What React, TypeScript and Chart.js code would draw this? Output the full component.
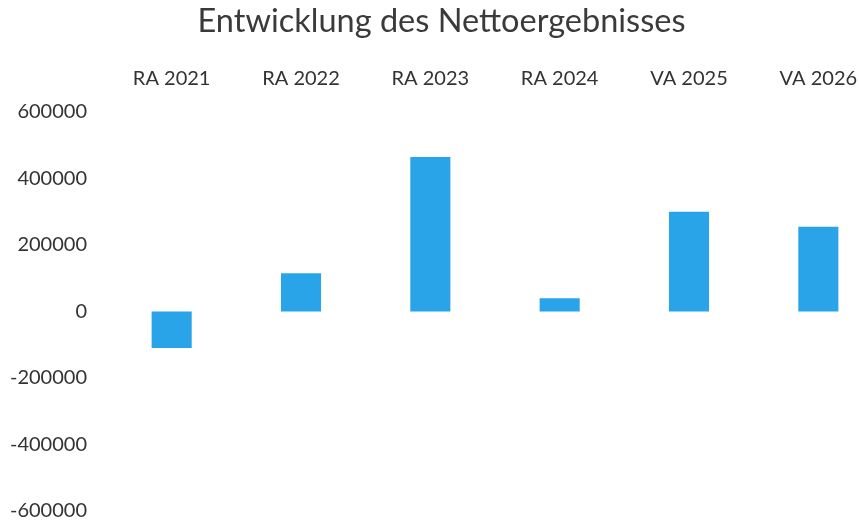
import React, { useEffect, useRef } from "react";
import { Chart, registerables } from "chart.js";

Chart.register(...registerables);

const categories = ["RA 2021", "RA 2022", "RA 2023", "RA 2024", "VA 2025", "VA 2026"];
const nettoergebnis = [-110000, 115000, 465000, 40000, 300000, 255000];
const yTicks = [600000, 400000, 200000, 0, -200000, -400000, -600000];
const chartTitle = "Entwicklung des Nettoergebnisses";

export default function App() {
  const ref = useRef<HTMLCanvasElement | null>(null);
  useEffect(() => {
    if (!ref.current) return;
    const chart = new Chart(ref.current, {
      type: "bar",
      data: {
        labels: categories,
        datasets: [
          {
            data: nettoergebnis,
            backgroundColor: "#2AA4E9",
            borderWidth: 0,
            categoryPercentage: 0.31,
            barPercentage: 1,
          },
        ],
      },
      options: {
        animation: false,
        responsive: false,
        maintainAspectRatio: false,
        layout: { padding: { left: 0, right: 0, top: 0, bottom: 0 } },
        plugins: {
          legend: { display: false },
          tooltip: { enabled: false },
          title: {
            display: true,
            text: chartTitle,
            color: "#3a3a3a",
            font: { family: "Lato", size: 32.5, weight: "normal" },
            padding: { top: 2, bottom: 27 },
          },
        },
        scales: {
          x: {
            position: "top",
            grid: { display: false, drawTicks: false },
            border: { display: false },
            ticks: {
              color: "#333333",
              font: { family: "Lato", size: 20 },
              padding: 21,
              maxRotation: 0,
            },
            afterFit: (s: any) => {
              s.height = 44;
            },
          },
          y: {
            min: -600000,
            max: 600000,
            grid: { display: false, drawTicks: false },
            border: { display: false },
            afterBuildTicks: (s: any) => {
              s.ticks = yTicks.map((v) => ({ value: v }));
            },
            ticks: {
              color: "#333333",
              font: { family: "Lato", size: 20 },
              padding: 20,
              callback: (v: any) => String(v),
            },
            afterFit: (s: any) => {
              s.width = 107;
              s.paddingTop = 0;
              s.paddingBottom = 13;
            },
          },
        },
      },
    });
    return () => chart.destroy();
  }, []);
  return (
    <div
      style={{
        position: "fixed",
        left: 0,
        top: 0,
        width: 859,
        height: 524,
        overflow: "hidden",
        background: "#fff",
      }}
    >
      <canvas ref={ref} width={883} height={524} style={{ display: "block" }} />
    </div>
  );
}
